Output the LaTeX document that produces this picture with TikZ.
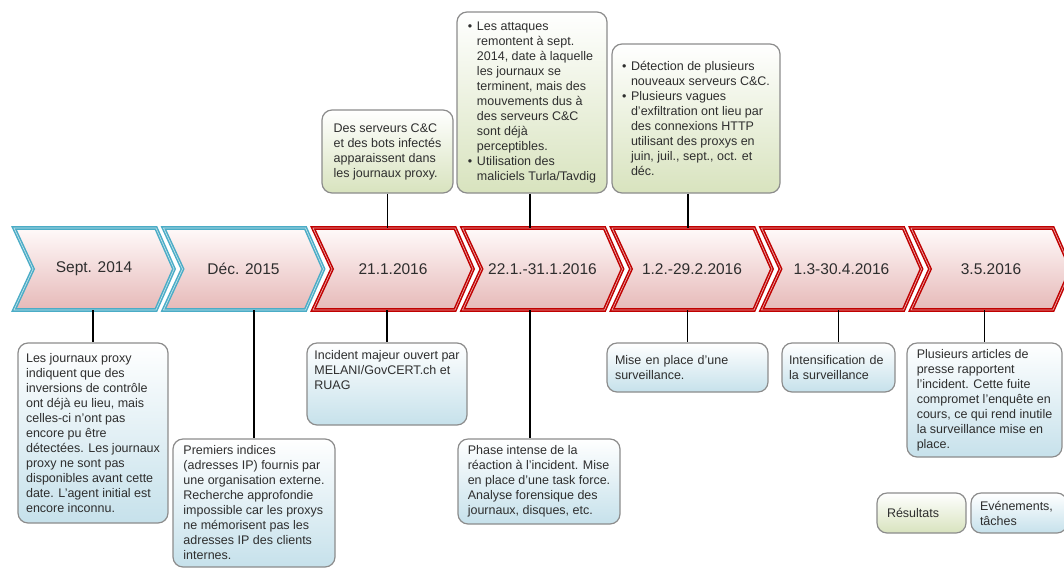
\documentclass[tikz,border=0pt]{standalone}
\usepackage{fontspec}
\setmainfont{Liberation Sans}
\usetikzlibrary{positioning,calc}

\definecolor{chevred}{HTML}{C00000}
\definecolor{chevblue}{HTML}{4BACC6}
\definecolor{chevpink}{HTML}{E6B9B8}
\definecolor{boxblue}{HTML}{C6E1EB}
\definecolor{boxgreen}{HTML}{D8E3BE}
\definecolor{boxline}{HTML}{8C8C8C}
\definecolor{txtgray}{HTML}{2E2E2E}

\newcommand{\bul}{\makebox[9pt][l]{\textbullet}}
\newcommand{\ind}{\hspace*{9pt}}

\begin{document}
\begin{tikzpicture}[x=1pt,y=-1pt,
    chevron/.style={draw=#1,line width=1.5pt,double=#1!35!white,double distance=0.7pt,
        line join=miter,top color=red!2,bottom color=chevpink},
    datelabel/.style={text=txtgray,font=\fontsize{15.5}{18}\selectfont,
        minimum width=110pt,minimum height=82pt,inner sep=0pt},
    evtbox/.style={draw=boxline,line width=1.2pt,rounded corners=10pt,top color=white,
        bottom color=boxblue,align=left,text=txtgray,font=\fontsize{12.5}{15}\selectfont,inner sep=4pt},
    resbox/.style={evtbox,bottom color=boxgreen},
    link/.style={line width=1.8pt,black}]

\useasboundingbox (0,0) rectangle (1064,568);
\clip (0,0) rectangle (1064,568);

% timeline
\foreach \i/\txt/\col in {1/Sept. 2014/chevblue,2/Déc. 2015/chevblue,3/21.1.2016/chevred,
    4/22.1.-31.1.2016/chevred,5/1.2.-29.2.2016/chevred,6/1.3-30.4.2016/chevred,7/3.5.2016/chevred}{
  \pgfmathsetmacro{\xa}{14+149.5*(\i-1)}
  \draw[chevron=\col] (\xa,228) -- ++(142,0) -- ++(18,41) -- ++(-18,41) -- ++(-142,0) -- ++(19,-41) -- cycle;
  \node[datelabel] (chev\i) at (\xa+80,269) {\txt};
}

% results (top)
\node[resbox,minimum width=131pt,minimum height=83pt] (res1) at (387.5,151.5)
  {Des serveurs C\&C\\ et des bots infectés\\ apparaissent dans\\ les journaux proxy.};
\node[resbox,minimum width=150pt,minimum height=181pt] (res2) at (532,102.5)
  {\bul Les attaques\\ \ind remontent à sept.\\ \ind 2014, date à laquelle\\ \ind les journaux se\\
   \ind terminent, mais des\\ \ind mouvements dus à\\ \ind des serveurs C\&C\\ \ind sont déjà\\
   \ind perceptibles.\\ \bul Utilisation des\\ \ind maliciels Turla/Tavdig};
\node[resbox,minimum width=168pt,minimum height=149pt] (res3) at (696,118.5)
  {\bul Détection de plusieurs\\ \ind nouveaux serveurs C\&C.\\ \bul Plusieurs vagues\\
   \ind d’exfiltration ont lieu par\\ \ind des connexions HTTP\\ \ind utilisant des proxys en\\
   \ind juin, juil., sept., oct. et\\ \ind déc.};

% events (bottom)
\node[evtbox,minimum width=150pt,minimum height=180pt] (evt1) at (93,433)
  {Les journaux proxy\\ indiquent que des\\ inversions de contrôle\\ ont déjà eu lieu, mais\\
   celles-ci n’ont pas\\ encore pu être\\ détectées. Les journaux\\ proxy ne sont pas\\
   disponibles avant cette\\ date. L’agent initial est\\ encore inconnu.};
\node[evtbox,minimum width=162pt,minimum height=128pt] (evt2) at (254,503)
  {Premiers indices\\ (adresses IP) fournis par\\ une organisation externe.\\ Recherche approfondie\\
   impossible car les proxys\\ ne mémorisent pas les\\ adresses IP des clients\\ internes.};
\node[evtbox,minimum width=160pt,minimum height=82pt] (evt3) at (387,384)
  {Incident majeur ouvert par\\ MELANI/GovCERT.ch et\\ RUAG\\[13pt]\mbox{}};
\node[evtbox,minimum width=162pt,minimum height=85pt] (evt4) at (539,481.5)
  {Phase intense de la\\ réaction à l’incident. Mise\\ en place d’une task force.\\
   Analyse forensique des\\ journaux, disques, etc.};
\node[evtbox,text width=145pt,inner xsep=8pt,minimum height=49pt] (evt5) at (687.5,367.5)
  {Mise en place d’une\\ surveillance.};
\node[evtbox,text width=99pt,inner xsep=7pt,minimum height=49pt] (evt6) at (838.5,367.5)
  {Intensification de\\ la surveillance};
\node[evtbox,minimum width=155pt,minimum height=114pt] (evt7) at (984.5,400)
  {Plusieurs articles de\\ presse rapportent\\ l’incident. Cette fuite\\ compromet l’enquête en\\
   cours, ce qui rend inutile\\ la surveillance mise en\\ place.};

% legend
\node[resbox,text width=69pt,inner xsep=10pt,minimum height=40pt] (keyres) at (921.5,513) {Résultats};
\node[evtbox,text width=78pt,inner xsep=9pt,minimum height=40pt] (keyevt) at (1019,513) {Evénements,\\ tâches};

% links
\draw[link] (res1.south) -- (res1.south |- chev3.north);
\draw[link] ([xshift=-2pt]res2.south) -- ([xshift=-2pt]res2.south |- chev4.north);
\draw[link] ([xshift=-8pt]res3.south) -- ([xshift=-8pt]res3.south |- chev5.north);
\draw[link] (evt1.north |- chev1.south) -- (evt1.north);
\draw[link] (evt2.north |- chev2.south) -- (evt2.north);
\draw[link] (evt3.north |- chev3.south) -- (evt3.north);
\draw[link] ([xshift=-9pt]evt4.north |- chev4.south) -- ([xshift=-9pt]evt4.north);
\draw[link] (evt5.north |- chev5.south) -- (evt5.north);
\draw[link] (evt6.north |- chev6.south) -- (evt6.north);
\draw[link] (evt7.north |- chev7.south) -- (evt7.north);
\end{tikzpicture}
\end{document}
